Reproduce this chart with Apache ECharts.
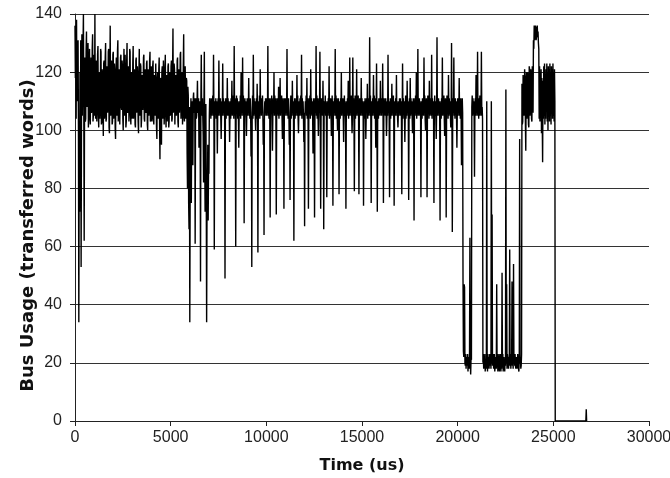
<!DOCTYPE html>
<html>
<head>
<meta charset="utf-8">
<script src="https://cdn.jsdelivr.net/npm/echarts@6/dist/echarts.min.js"></script>
<style>
html,body{margin:0;padding:0;background:#fff;}
#chart{width:670px;height:478px;}
</style>
</head>
<body>
<div id="chart"></div>
<script>
// Sample interval of the measurement (us)
const SAMPLE_INTERVAL_US = 20;

// Bus usage (transferred words), one row per 1000 us (50 samples), from t = 0
const busUsage = [
  136,118,128,104,138,110,112,126,131,102,34,95,72,120,85,131,53,108,133,105,118,129,140,107,62,112,125,103,104,127,134,108,110,124,130,101,106,122,128,104,102,119,125,106,108,128,133,103,105,121,
  126,105,140,108,104,124,122,103,108,126,129,106,101,120,119,104,110,128,127,102,103,121,117,107,98,123,124,104,107,125,130,103,104,122,121,106,112,127,128,101,99,118,136,105,106,124,123,102,103,126,
  127,104,108,123,120,101,97,119,125,106,105,127,131,103,110,121,118,102,102,125,126,108,107,124,122,104,100,120,128,105,109,126,116,101,103,123,130,107,106,122,121,103,111,128,127,105,102,120,119,104,
  105,123,129,104,108,121,120,102,101,124,125,106,110,122,117,103,99,120,128,105,106,123,122,101,104,119,119,107,112,125,126,104,103,120,121,106,107,123,124,102,100,121,118,105,109,124,127,103,104,122,
  121,103,106,122,124,104,102,119,117,105,110,123,123,101,97,118,120,106,104,121,125,103,90,117,118,100,95,120,122,104,105,124,119,102,108,121,126,105,101,119,116,103,109,122,123,101,103,118,120,105,
  107,122,124,103,104,120,135,106,110,123,121,102,102,119,118,105,108,124,125,103,101,121,120,106,111,126,127,104,104,120,119,102,106,122,133,105,103,121,122,104,108,118,117,92,80,115,112,75,66,108,
  34,82,104,111,75,108,110,105,88,111,113,106,106,111,61,106,111,104,105,110,117,106,107,111,94,105,110,106,48,110,126,105,106,111,111,98,82,109,127,90,72,108,109,80,34,74,78,95,69,88,
  85,105,111,106,110,104,111,105,110,106,112,105,126,106,59,105,110,106,111,104,110,105,92,106,111,105,124,106,110,105,111,104,97,106,110,105,123,106,111,105,110,106,49,105,111,104,110,106,118,105,
  111,105,110,106,96,105,110,104,111,106,117,105,111,106,112,104,129,105,111,106,60,105,112,106,111,104,110,105,94,106,110,105,112,104,120,106,110,105,125,106,112,105,68,104,111,106,110,105,98,106,
  111,105,110,106,118,105,110,104,111,106,91,105,53,106,112,104,126,105,111,106,110,105,100,106,111,104,116,105,58,106,110,105,112,104,121,106,110,105,111,106,112,105,95,104,64,106,110,105,111,106,
  111,105,110,106,129,105,110,104,111,106,70,105,111,106,112,104,93,105,111,106,120,105,112,106,111,104,71,105,111,106,110,105,115,104,111,106,118,105,111,106,112,105,97,104,111,106,73,105,111,106,
  111,105,110,106,128,105,110,104,111,106,95,105,76,106,112,104,110,105,117,106,110,105,62,106,111,104,110,105,111,106,119,105,112,104,99,106,110,105,111,106,112,105,126,104,111,106,110,105,96,106,
  67,105,110,106,112,105,118,104,111,106,73,105,111,106,112,104,121,105,111,106,110,105,92,106,111,104,70,105,111,106,129,105,112,104,111,106,98,105,111,106,127,105,73,104,111,106,110,105,117,106,
  66,105,110,106,112,105,110,104,77,106,110,105,111,106,122,104,110,105,111,106,98,105,112,106,74,104,110,105,111,106,128,105,112,104,111,106,100,105,111,106,78,105,110,104,111,106,120,105,111,106,
  111,105,96,106,112,105,110,104,73,106,110,105,111,106,117,104,110,105,125,106,110,105,112,106,99,104,125,105,111,106,79,105,112,104,111,106,121,105,111,106,112,105,78,104,111,106,110,105,118,106,
  111,105,110,106,74,105,110,104,111,106,97,105,111,106,116,104,110,105,111,106,132,105,112,106,75,104,110,105,111,106,119,105,112,104,111,106,94,105,123,106,72,105,110,104,111,106,110,105,117,106,
  111,105,110,106,123,105,75,104,111,106,110,105,111,106,98,104,110,105,126,106,110,105,77,106,111,104,110,105,116,106,110,105,112,104,74,106,110,105,111,106,119,105,110,104,101,106,110,105,111,106,
  111,105,110,106,78,105,123,104,111,106,110,105,96,106,112,104,110,105,117,106,110,105,76,106,111,104,118,105,111,106,110,105,99,104,111,106,69,105,111,106,112,105,120,104,111,106,128,105,111,106,
  111,105,110,106,77,105,110,104,111,106,110,105,125,106,112,104,100,105,111,106,77,105,112,106,111,104,117,105,111,106,110,105,126,104,111,106,110,105,75,106,112,105,110,104,97,106,132,105,111,106,
  111,105,110,106,69,105,110,104,111,106,125,105,111,106,112,104,98,105,111,106,70,105,112,106,111,104,119,105,111,106,110,105,101,104,130,106,65,105,111,106,125,105,110,104,111,106,110,105,94,106,
  111,105,110,106,118,105,110,104,111,106,88,105,111,106,48,24,22,47,46,20,19,23,18,22,21,19,23,17,22,20,18,23,63,21,16,22,21,108,112,105,111,106,110,105,84,106,111,105,119,106,
  111,105,127,106,110,104,111,105,112,106,110,105,127,106,108,104,20,23,18,22,19,23,17,21,20,18,110,21,17,23,19,22,18,21,23,19,22,18,110,20,71,19,20,23,18,22,23,17,19,22,
  22,18,47,19,23,17,21,18,23,17,22,19,23,17,21,18,51,20,23,17,22,18,21,17,22,19,114,20,47,18,23,19,22,18,21,23,59,19,22,18,23,20,48,19,22,18,54,21,23,19,
  23,19,18,22,22,18,19,23,21,18,17,22,97,20,22,18,19,23,116,102,103,119,114,105,106,121,118,103,93,117,120,104,104,120,117,102,101,122,121,105,108,121,119,104,103,122,122,106,131,128,
  136,131,133,136,135,131,132,135,136,132,134,130,128,104,122,103,120,105,121,99,118,104,89,117,104,122,105,123,102,119,104,121,107,123,103,120,100,122,106,121,103,123,105,120,102,122,106,121,104,123,
  105,120,103,121,110
];

// Tail after the bus activity ends: explicit (time us, value) samples
const tailTimes  = [25100, 26700, 26720, 26740];
const tailValues = [0, 0, 4, 0];

const xAxisName = 'Time (us)';
const yAxisName = 'Bus Usage (transferred words)';

const points = busUsage.map((v, i) => [i * SAMPLE_INTERVAL_US, v])
  .concat(tailTimes.map((t, i) => [t, tailValues[i]]));

const chart = echarts.init(document.getElementById('chart'), null, {renderer: 'canvas'});
const labelFont = {fontFamily: 'Liberation Sans, Arial, sans-serif', fontSize: 16, color: '#222'};
const nameFont = {fontFamily: 'DejaVu Sans, sans-serif', fontWeight: 'bold', fontSize: 16, color: '#111'};

chart.setOption({
  animation: false,
  backgroundColor: '#fff',
  grid: {left: 75, right: 21, top: 14, bottom: 57, containLabel: false, outerBoundsMode: 'none'},
  xAxis: {
    type: 'value', min: 0, max: 30000, interval: 5000,
    name: xAxisName, nameLocation: 'middle', nameGap: 37, nameMoveOverlap: false,
    nameTextStyle: nameFont,
    axisLine: {show: true, onZero: false, lineStyle: {color: '#222', width: 1}},
    axisTick: {show: true, length: 5, lineStyle: {color: '#222', width: 1}},
    axisLabel: Object.assign({margin: 9, showMaxLabel: true, hideOverlap: false,
      formatter: v => String(v)}, labelFont),
    splitLine: {show: false}
  },
  yAxis: {
    type: 'value', min: 0, max: 140, interval: 20,
    name: yAxisName, nameLocation: 'middle', nameGap: 38, nameRotate: 90, nameMoveOverlap: false,
    nameTextStyle: Object.assign({}, nameFont, {fontSize: 18, padding: [0, 36, 0, 0]}),
    axisLine: {show: true, lineStyle: {color: '#222', width: 1}},
    axisTick: {show: true, length: 5, lineStyle: {color: '#222', width: 1}},
    axisLabel: Object.assign({margin: 13, formatter: v => String(v)}, labelFont),
    splitLine: {show: true, lineStyle: {color: '#333', width: 1}}
  },
  series: [{
    type: 'line',
    data: points,
    showSymbol: false,
    symbol: 'none',
    silent: true,
    lineStyle: {color: '#000', width: 1.4},
    z: 3
  }]
});
</script>
</body>
</html>
